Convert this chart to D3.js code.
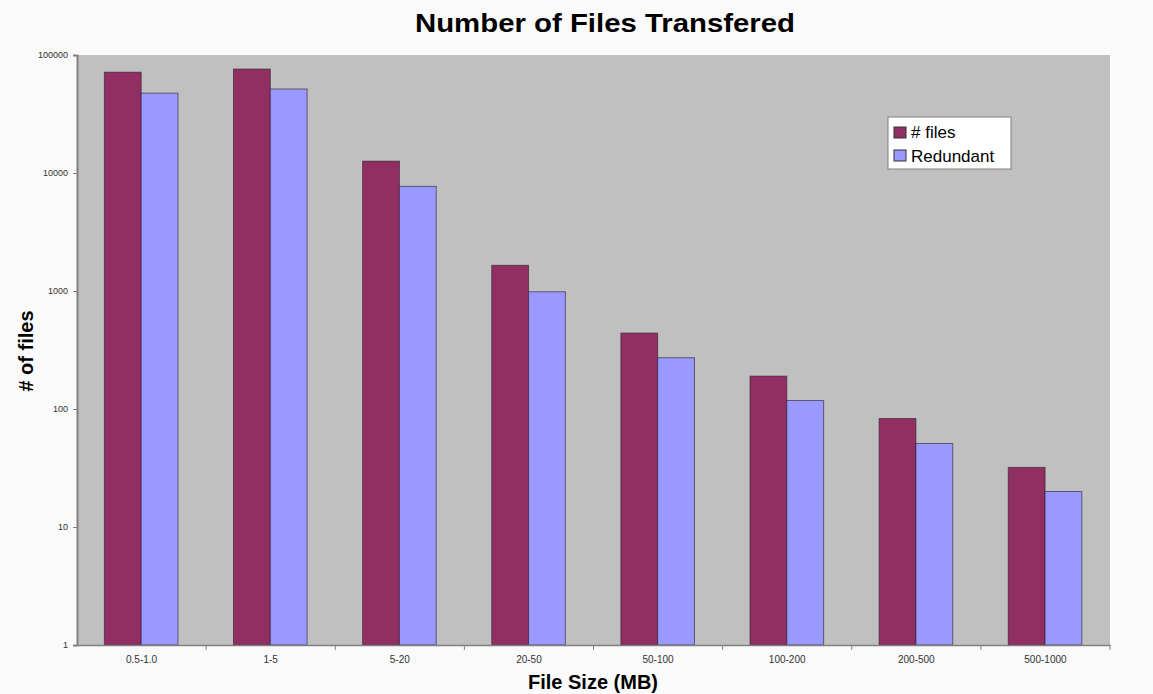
<!DOCTYPE html>
<html>
<head>
<style>
  body { margin: 0; background: #fafafa; }
  svg { display: block; font-family: "Liberation Sans", Arial, sans-serif; }
</style>
</head>
<body>
<div id="chart"></div>
<script src="https://d3js.org/d3.v7.min.js"></script>
<script>
// data
var categories = ["0.5-1.0", "1-5", "5-20", "20-50", "50-100", "100-200", "200-500", "500-1000"];
var seriesNames = ["# files", "Redundant"];
var numFiles  = [71500, 76000, 12600, 1650, 440, 190, 83, 32];
var redundant = [47500, 51500, 7700, 985, 272, 118, 51, 20];
var yTicks = [1, 10, 100, 1000, 10000, 100000];
var colors = ["#922f62", "#9999ff"];

var W = 1153, H = 694;
var margin = {top: 55, right: 43, bottom: 49, left: 77};
var width = W - margin.left - margin.right,
    height = H - margin.top - margin.bottom;

var svg = d3.select("#chart").append("svg")
  .attr("width", W).attr("height", H);

// title
svg.append("text")
  .attr("x", 605).attr("y", 32)
  .attr("text-anchor", "middle")
  .attr("font-size", "25px").attr("font-weight", "bold")
  .attr("textLength", 380).attr("lengthAdjust", "spacingAndGlyphs")
  .text("Number of Files Transfered");

var g = svg.append("g")
  .attr("transform", "translate(" + margin.left + "," + margin.top + ")");

// plot background
g.append("rect")
  .attr("width", width).attr("height", height)
  .attr("fill", "#c0c0c0");

var x = d3.scaleBand().domain(categories).range([0, width]);
var y = d3.scaleLog().domain([1, 100000]).range([height, 0]);

var bw = x.bandwidth();
var x1 = d3.scaleBand().domain(seriesNames)
  .range([bw * 0.212, bw * 0.212 + bw * 0.57]);

var rows = categories.map(function(c, i) {
  return {cat: c, values: [numFiles[i], redundant[i]]};
});

var groups = g.selectAll(".grp").data(rows).enter().append("g")
  .attr("transform", function(d) { return "translate(" + x(d.cat) + ",0)"; });

groups.selectAll("rect")
  .data(function(d) { return d.values.map(function(v, j) { return {s: seriesNames[j], v: v, j: j}; }); })
  .enter().append("rect")
    .attr("x", function(d) { return x1(d.s); })
    .attr("width", x1.bandwidth())
    .attr("y", function(d) { return y(d.v); })
    .attr("height", function(d) { return height - y(d.v); })
    .attr("fill", function(d) { return colors[d.j]; })
    .attr("stroke", "#2a1a2a").attr("stroke-opacity", 0.6)
    .attr("stroke-width", 1);

// y axis
var yAxis = g.append("g")
  .call(d3.axisLeft(y).tickValues(yTicks).tickFormat(d3.format("d")).tickSize(4).tickPadding(5));
yAxis.select(".domain").attr("stroke", "#808080").attr("stroke-width", 2);
yAxis.selectAll(".tick line").attr("stroke", "#808080");
yAxis.selectAll("text").attr("font-size", "9px").attr("fill", "#333");

// x axis
var xAxis = g.append("g")
  .attr("transform", "translate(0," + height + ")")
  .call(d3.axisBottom(x).tickSize(0).tickPadding(11));
xAxis.select(".domain").attr("stroke", "#808080").attr("stroke-width", 1.5);
xAxis.selectAll("text").attr("font-size", "10px").attr("fill", "#333");
xAxis.selectAll(".sep").data(categories.slice(1).concat(["end"])).enter().append("line")
  .attr("x1", function(d, i) { return bw * (i + 1); })
  .attr("x2", function(d, i) { return bw * (i + 1); })
  .attr("y1", 0).attr("y2", 5)
  .attr("stroke", "#808080");

// axis titles
svg.append("text")
  .attr("x", 593).attr("y", 689)
  .attr("text-anchor", "middle")
  .attr("font-size", "20px").attr("font-weight", "bold")
  .text("File Size (MB)");

svg.append("text")
  .attr("transform", "translate(33,351) rotate(-90)")
  .attr("text-anchor", "middle")
  .attr("font-size", "20px").attr("font-weight", "bold")
  .text("# of files");

// legend
var lg = svg.append("g").attr("transform", "translate(888,117)");
lg.append("rect")
  .attr("width", 123).attr("height", 52)
  .attr("fill", "#ffffff").attr("stroke", "#808080").attr("stroke-width", 1);
seriesNames.forEach(function(s, i) {
  lg.append("rect")
    .attr("x", 6).attr("y", 10 + i * 23)
    .attr("width", 12).attr("height", 11)
    .attr("fill", colors[i]).attr("stroke", "#333").attr("stroke-width", 1);
  lg.append("text")
    .attr("x", 23).attr("y", 21 + i * 24)
    .attr("font-size", "17px")
    .text(s);
});
</script>
</body>
</html>
